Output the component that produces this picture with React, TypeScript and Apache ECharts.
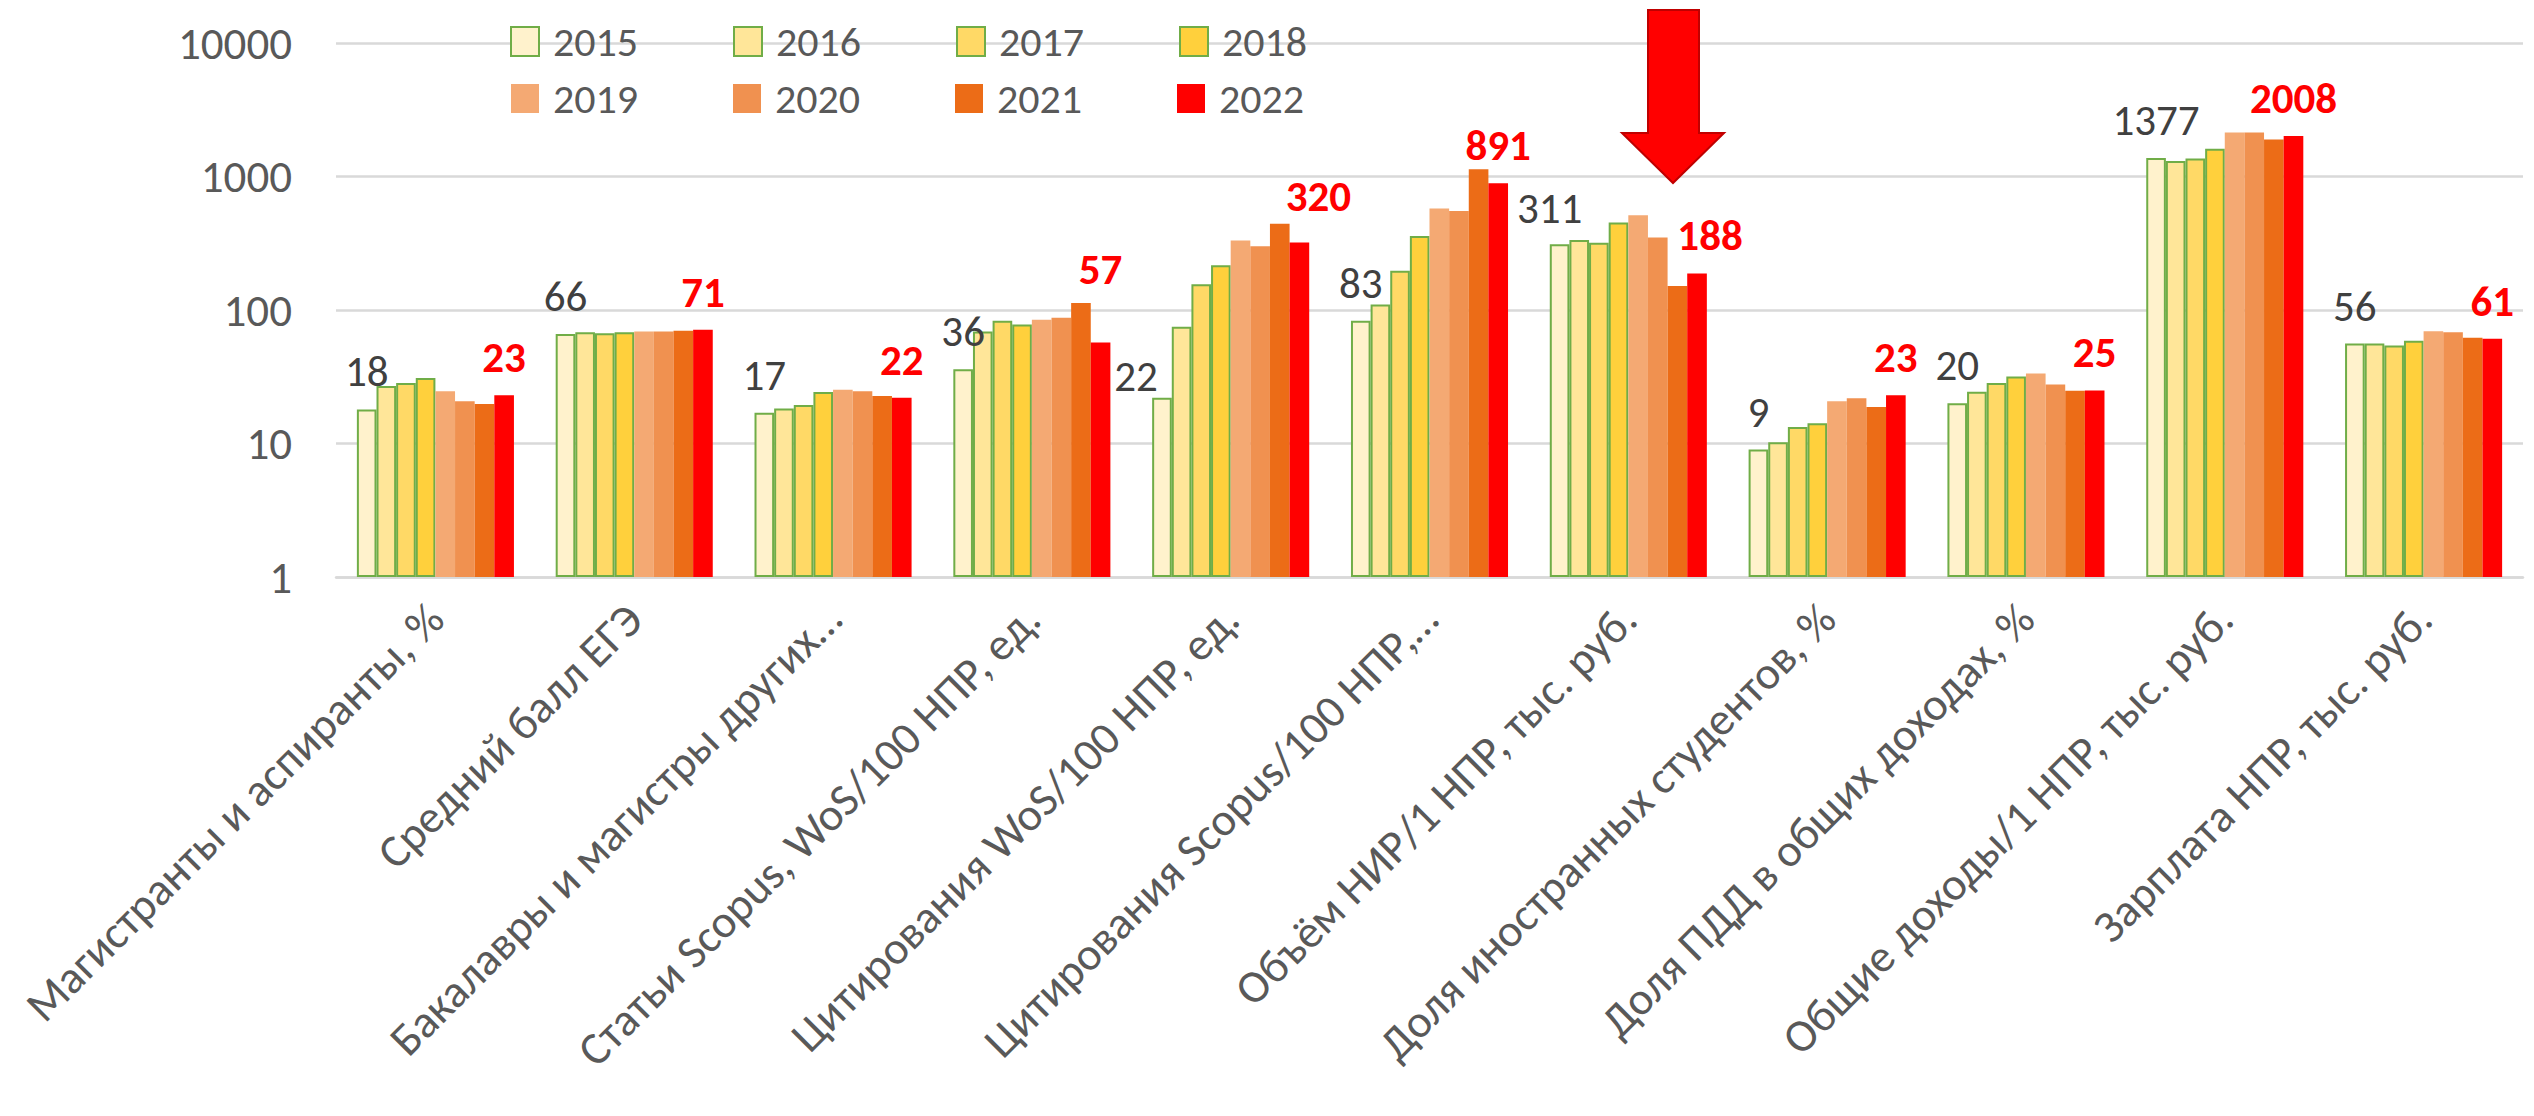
import React, { useEffect, useRef } from "react";
import * as echarts from "echarts";

const categories = [
  "Магистранты и аспиранты, %",
  "Средний балл ЕГЭ",
  "Бакалавры и магистры других…",
  "Статьи Scopus, WoS/100 НПР, ед.",
  "Цитирования WoS/100 НПР, ед.",
  "Цитирования Scopus/100 НПР,…",
  "Объём НИР/1 НПР, тыс. руб.",
  "Доля иностранных студентов, %",
  "Доля ПДД в общих доходах, %",
  "Общие доходы/1 НПР, тыс. руб.",
  "Зарплата НПР, тыс. руб.",
];

const years = ["2015", "2016", "2017", "2018", "2019", "2020", "2021", "2022"];

const v2015 = [18, 66, 17, 36, 22, 83, 311, 9, 20, 1377, 56];
const v2016 = [27, 68, 18.3, 69, 75, 110, 334, 10.2, 24.4, 1309, 56];
const v2017 = [28.4, 67, 19.4, 83, 156, 197, 319, 13.3, 28.4, 1362, 54.3];
const v2018 = [31, 68, 24.3, 78, 216, 359, 452, 14.2, 31.8, 1617, 58.8];
const v2019 = [24.6, 69, 25.3, 84.5, 331, 577, 513, 20.7, 33.5, 2134, 69.3];
const v2020 = [20.7, 69, 24.6, 87.4, 300, 551, 349, 21.8, 27.7, 2134, 68];
const v2021 = [19.8, 70, 22.7, 113, 443, 1132, 151, 18.8, 24.8, 1894, 62];
const v2022 = [23, 71, 22, 57, 320, 891, 188, 23, 25, 2008, 61];

const yTicks = [1, 10, 100, 1000, 10000];

const values = [v2015, v2016, v2017, v2018, v2019, v2020, v2021, v2022];
const colors = ["#FFF2CC", "#FFE699", "#FFD966", "#FFD03C", "#F4A973", "#F09150", "#EC6C17", "#FF0000"];

// label nudges (style only)
const nudgeFirst: Record<number, number[]> = { 4: [-26, 16], 6: [-10, 2] };
const nudgeLast: Record<number, number[]> = { 3: [0, -36], 4: [19, -9], 6: [13, 0] };

const FONT = "Carlito, Lato, sans-serif";

export default function App() {
  const ref = useRef<HTMLDivElement>(null);
  useEffect(() => {
    if (!ref.current) return;
    const chart = echarts.init(ref.current, undefined, { renderer: "svg" });
    const series = years.map((y, si) => {
      const green = si < 4;
      const data = values[si].map((v, i) => {
        if (si === 0) {
          const n = nudgeFirst[i];
          return n ? { value: v, label: { offset: n } } : v;
        }
        if (si === 7) {
          const n = nudgeLast[i];
          return n ? { value: v, label: { offset: n } } : v;
        }
        return v;
      });
      return {
        name: y,
        type: "bar",
        barGap: "0%",
        barCategoryGap: "21%",
        data,
        itemStyle: {
          color: colors[si],
          borderColor: green ? "#70AD47" : colors[si],
          borderWidth: green ? 2 : 0,
        },
        label:
          si === 0 || si === 7
            ? {
                show: true,
                position: "top",
                distance: 16,
                fontFamily: FONT,
                fontSize: 43,
                color: si === 0 ? "#404040" : "#FF0000",
                fontWeight: si === 7 ? "bold" : "normal",
              }
            : { show: false },
      };
    });
    chart.setOption({
      animation: false,
      textStyle: { fontFamily: FONT },
      grid: { left: 336, right: 11, top: 43, bottom: 539, containLabel: false },
      legend: {
        data: years,
        left: 505,
        top: 8,
        width: 900,
        itemWidth: 28,
        itemHeight: 29,
        itemGap: 0,
        icon: "rect",
        textStyle: {
          fontFamily: FONT,
          fontSize: 42,
          color: "#595959",
          width: 180,
          lineHeight: 57,
          padding: [0, 0, 0, 9],
        },
      },
      xAxis: {
        type: "category",
        data: categories,
        axisLine: { show: true, lineStyle: { color: "#D9D9D9", width: 2.5 } },
        axisTick: { show: false },
        axisLabel: {
          rotate: 45,
          interval: 0,
          margin: 34,
          fontFamily: FONT,
          fontSize: 46,
          color: "#595959",
        },
      },
      yAxis: {
        type: "log",
        logBase: 10,
        min: yTicks[0],
        max: yTicks[yTicks.length - 1],
        axisLine: { show: false },
        axisTick: { show: false },
        splitLine: { lineStyle: { color: "#D9D9D9", width: 2.5 } },
        axisLabel: {
          margin: 44,
          fontFamily: FONT,
          fontSize: 45,
          color: "#595959",
          formatter: (v: number) => String(Math.round(v)),
        },
      },
      graphic: [
        {
          type: "polygon",
          shape: {
            points: [
              [1648, 10],
              [1699, 10],
              [1699, 133],
              [1724, 133],
              [1673, 183],
              [1622, 133],
              [1648, 133],
            ],
          },
          style: { fill: "#FF0000", stroke: "#C00000", lineWidth: 2 },
          z: 100,
        },
      ],
      series,
    });
    return () => chart.dispose();
  }, []);
  return (
    <div
      ref={ref}
      style={{ position: "absolute", left: 0, top: 0, width: 2534, height: 1116, background: "#fff" }}
    />
  );
}
